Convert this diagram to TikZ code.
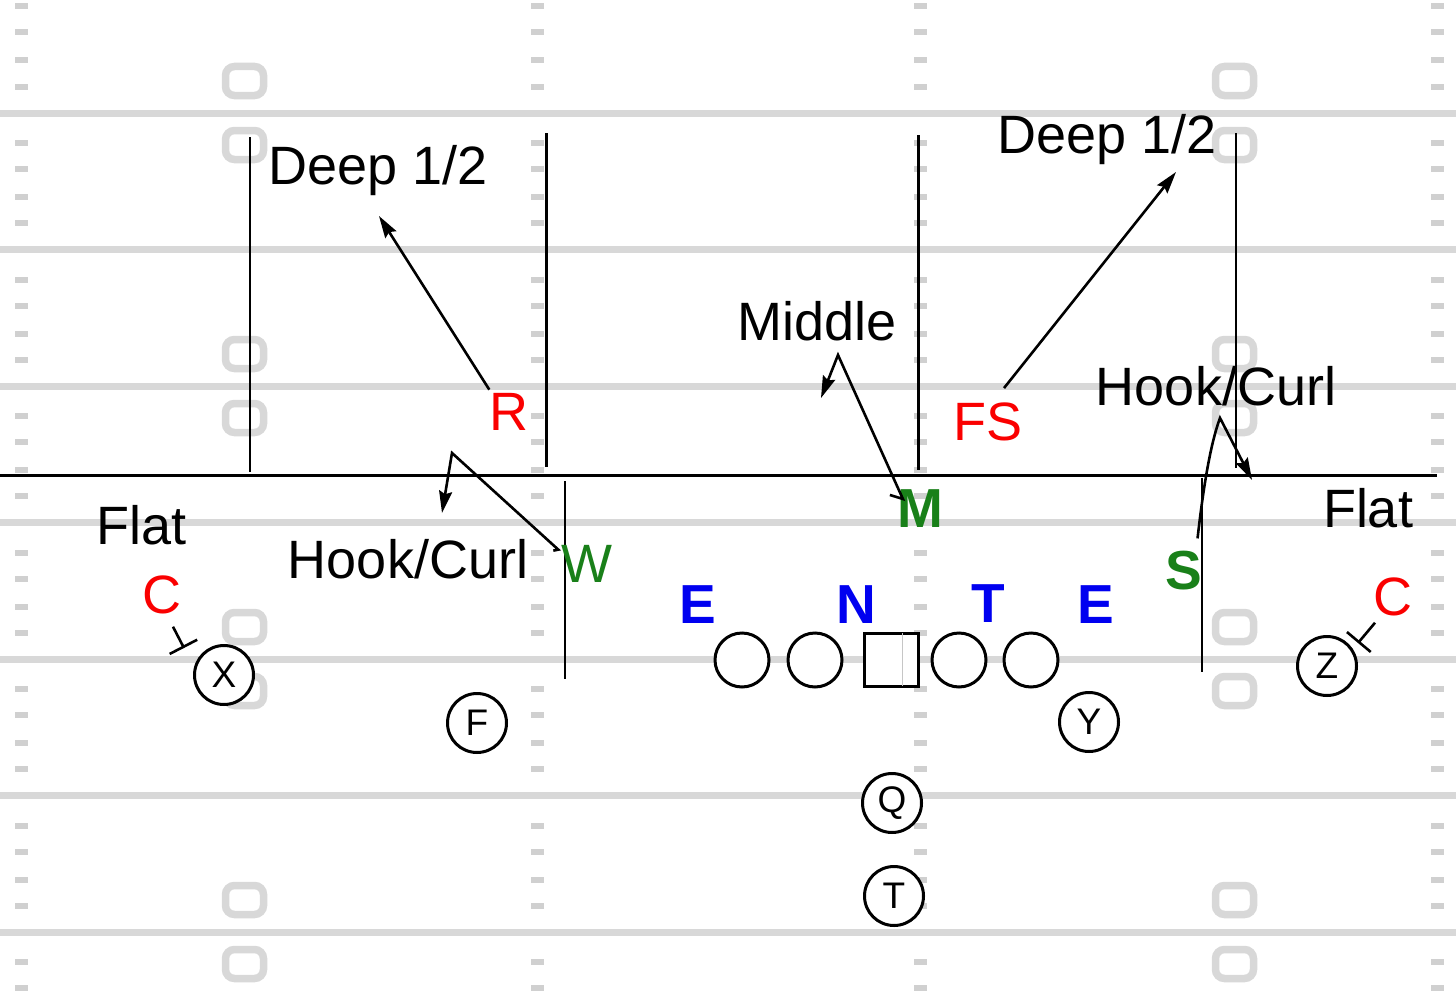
\documentclass[tikz,border=0pt]{standalone}
\usepackage{fontspec}
\setmainfont{Liberation Sans}
\usetikzlibrary{arrows.meta}
\definecolor{fieldgray}{RGB}{216,216,216}
\definecolor{dashgray}{RGB}{208,208,208}
\definecolor{dred}{RGB}{250,0,0}
\definecolor{dgreen}{RGB}{25,128,25}
\definecolor{dblue}{RGB}{0,0,240}
\begin{document}
\begin{tikzpicture}[x=1pt,y=-1pt,
  yardline/.style={line width=7pt, draw=fieldgray},
  hashmark/.style={fill=dashgray},
  numbox/.style={draw=fieldgray, line width=7.5pt, rounded corners=9pt},
  zone/.style={line width=2.6pt},
  los/.style={line width=3pt},
  arr/.style={line width=2.6pt, -{Stealth[length=22pt,width=13pt,inset=3pt]}},
  blk/.style={line width=2.6pt, -{Bar[width=31pt]}},
  zonelbl/.style={inner sep=0pt, font=\fontsize{54}{60}\selectfont, anchor=base},
  dlbl/.style={inner sep=0pt, font=\fontsize{54}{60}\selectfont, anchor=base},
  dlblb/.style={inner sep=0pt, font=\fontsize{55}{60}\selectfont\bfseries, anchor=base},
  player/.style={circle, draw, line width=3pt, fill=white, minimum size=59pt, inner sep=0pt, font=\fontsize{37}{40}\selectfont},
  lineman/.style={circle, draw, line width=3pt, fill=white, minimum size=54pt, inner sep=0pt},
  snapbox/.style={rectangle, draw, line width=3pt, fill=white, minimum width=54pt, minimum height=53pt, inner sep=0pt}
]
\fill[white] (0,0) rectangle (1456,998);
\useasboundingbox (0,0) rectangle (1456,998);

% yard lines
\foreach \y in {113,249.5,386,522.5,659,795.5,932}
  \draw[yardline] (0,\y) -- (1456,\y);

% hash marks
\foreach \L in {-23.5,113,249.5,386,522.5,659,795.5,932} {
  \foreach \o in {30,56,84,110} {
    \foreach \x in {21.5,537,920,1437} {
      \fill[hashmark] (\x-6.5,\L+\o-3) rectangle (\x+6.5,\L+\o+3);
    }
  }
}

% yard number boxes
\foreach \L in {113,386,659,932} {
  \foreach \x in {244.5,1234.5} {
    \foreach \d in {-32,32} {
      \draw[numbox] (\x-19,\L+\d-14.5) rectangle (\x+19,\L+\d+14.5);
    }
  }
}

% line of scrimmage
\draw[los] (0,475) -- (1437,475);

% zone boundary lines
\draw[zone] (250,137) -- (250,472);
\draw[zone] (546.5,133) -- (546.5,467);
\draw[zone] (918.5,135) -- (918.5,470);
\draw[zone] (1236,133) -- (1236,468);
\draw[zone] (565,481) -- (565,679);
\draw[zone] (1202,478) -- (1202,672);

% offense
\node[player] (X) at (224,675) {X};
\node[player] (F) at (477,723) {F};
\node[player] (Y) at (1089,722) {Y};
\node[player] (Q) at (892,803) {Q};
\node[player] (T) at (894,896) {T};
\node[player] (Z) at (1327,666) {Z};
\node[lineman] (LT) at (742,660) {};
\node[lineman] (LG) at (815,660) {};
\node[snapbox] (C0) at (891,659.5) {};
\node[lineman] (RG) at (959,660) {};
\node[lineman] (RT) at (1031,660) {};
\draw[gray!45, line width=0.9pt] ([xshift=11pt,yshift=-1.5pt]C0.north) -- ([xshift=11pt,yshift=1.5pt]C0.south);

% zone labels
\node[zonelbl] (deepL) at (378,184) {Deep 1/2};
\node[zonelbl] (deepR) at (1107,153) {Deep 1/2};
\node[zonelbl] (middle) at (817,340) {Middle};
\node[zonelbl] (hookR) at (1216,405) {Hook/Curl};
\node[zonelbl] (flatL) at (142,544) {Flat};
\node[zonelbl] (hookL) at (408,578) {Hook/Curl};
\node[zonelbl] (flatR) at (1368,527) {Flat};

% defense
\node[dlbl, text=dred] (R) at (509,430) {R};
\node[dlbl, text=dred] (FS) at (988,440) {FS};
\node[dlbl, text=dred] (CL) at (162,613) {C};
\node[dlbl, text=dred] (CR) at (1393,615) {C};
\node[dlbl, text=dgreen] (W) at (587,582) {W};
\node[dlblb, text=dgreen] (M) at (920,527) {M};
\node[dlblb, text=dgreen] (S) at (1184,589) {S};
\node[dlblb, text=dblue] (E1) at (698,623) {E};
\node[dlblb, text=dblue] (N) at (856,623) {N};
\node[dlblb, text=dblue] (T1) at (988,622) {T};
\node[dlblb, text=dblue] (E2) at (1096,623) {E};

% arrow end points
\coordinate (rTip) at (379,216);
\coordinate (fsTip) at (1176,172);
\coordinate (midApex) at (838,355);
\coordinate (midTip) at (821,398);
\coordinate (hlApex) at (452,453);
\coordinate (hlTip) at (442,513);
\coordinate (hrApex) at (1220,418);
\coordinate (hrTip) at (1252,480);

% coverage drops
\draw[arr] ([yshift=3pt]R.north west) -- (rTip);
\draw[arr] ([xshift=16pt,yshift=14pt]FS.north) -- (fsTip);
\draw[arr] ([xshift=-7pt,yshift=-6pt]M.north west) -- ([xshift=6pt,yshift=-10pt]M.north west) -- (midApex) -- (midTip);
\draw[arr] ([xshift=-8pt,yshift=-6pt]W.north west) -- ([xshift=-3pt,yshift=-5pt]W.north west) -- (hlApex) -- (hlTip);
\draw[arr] ([xshift=-5pt,yshift=12pt]S.north east) .. controls (1203,490) and (1210,445) .. (hrApex) -- (hrTip);

% corner jams
\draw[blk] ([xshift=11pt,yshift=-13pt]CL.south) -- ([xshift=-40pt,yshift=27pt]X.center);
\draw[blk] ([xshift=-18pt,yshift=-7pt]CR.south) -- ([xshift=31pt,yshift=23pt]Z.center);
\end{tikzpicture}
\end{document}
